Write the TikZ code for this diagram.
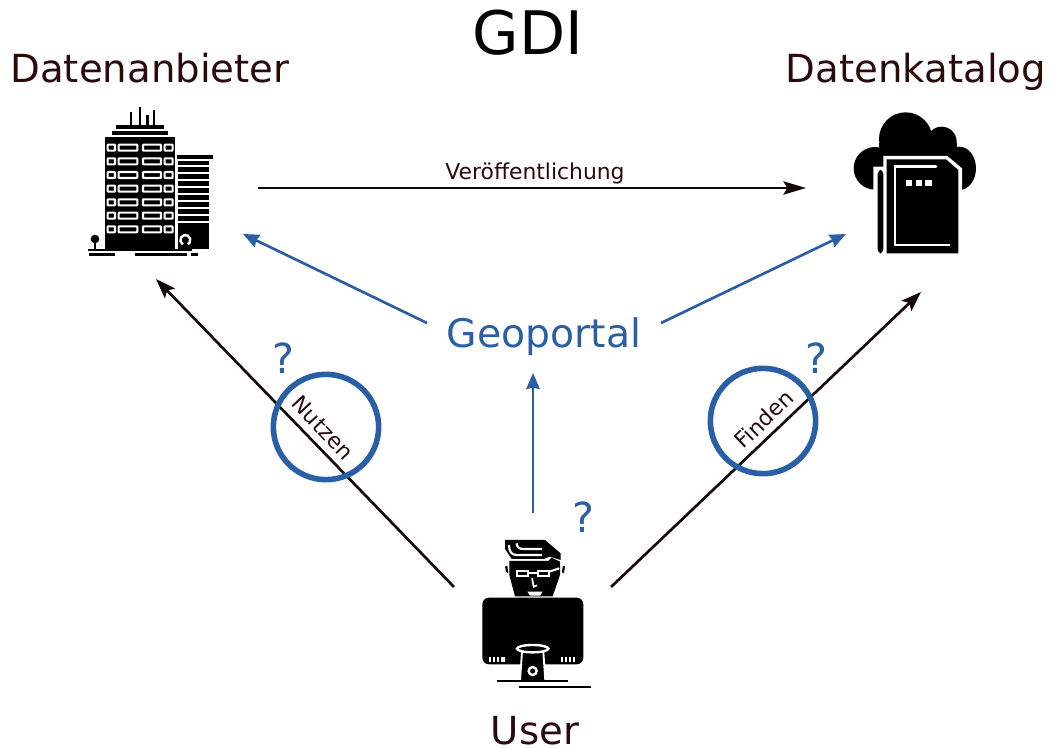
\documentclass[tikz,border=0pt]{standalone}
\usepackage{fontspec}
\setmainfont{DejaVu Sans}
\usetikzlibrary{arrows.meta}
\definecolor{ink}{HTML}{2A0A0A}
\definecolor{dark}{HTML}{140808}
\definecolor{geo}{HTML}{2A5FA5}
\tikzset{
  base/.style={inner sep=0pt,outer sep=0pt},
  title/.style={base,font=\fontsize{45}{50}\selectfont,text=black},
  head/.style={base,anchor=base,font=\fontsize{29}{32}\selectfont,text=ink},
  small/.style={base,font=\fontsize{16.4}{20}\selectfont,text=ink},
  portal/.style={base,anchor=base,font=\fontsize{29.5}{36}\selectfont,text=geo},
  quest/.style={base,font=\fontsize{31}{34}\selectfont,text=geo},
  inkarrow/.style={draw=dark,line width=2pt,-{Stealth[length=15pt,width=10.5pt,inset=3pt]}},
  inkthin/.style={draw=dark,line width=1.2pt,-{Stealth[length=17pt,width=10pt,inset=3pt]}},
  geoarrow/.style={draw=geo,line width=2pt,-{Stealth[length=12pt,width=10pt,inset=1pt]}},
  ring/.style={draw=geo,line width=4.2pt,circle,minimum size=79pt,inner sep=0pt,fill=none},
  wline/.style={draw=white,line width=1.6pt},
}
\begin{document}
\begin{tikzpicture}[x=0.75pt,y=-0.75pt]
\useasboundingbox (0,0) rectangle (1050,748);

% connector end points
\coordinate (pubA) at (258,188);
\coordinate (pubB) at (806,188);
\coordinate (useA) at (454,587);
\coordinate (useB) at (156,279);
\coordinate (findA) at (611,587);
\coordinate (findB) at (921,292);
\coordinate (geoL) at (427,323);
\coordinate (geoLend) at (243,234);
\coordinate (geoR) at (661,323);
\coordinate (geoRend) at (846,234);
\coordinate (geoB) at (533,513);
\coordinate (geoBend) at (533,373);

% texts
\node[title] (gdi) at (528,33) {GDI};
\node[head] (anb) at (150,83) {Datenanbieter};
\node[head] (kat) at (916,83) {Datenkatalog};
\node[head] (usr) at (535,744) {User};
\node[portal] (portalnode) at (544,348) {Geoportal};
\node[small] (pub) at (535,173) {Veröffentlichung};
\node[quest] (q1) at (283,358) {?};
\node[quest] (q2) at (816,358) {?};
\node[quest] (q3) at (583,517) {?};

% connectors
\draw[inkthin] (pubA) -- (pubB);
\draw[inkarrow] (useA) -- (useB);
\draw[inkarrow] (findA) -- (findB);
\draw[geoarrow] (geoL) -- (geoLend);
\draw[geoarrow] (geoR) -- (geoRend);
\draw[geoarrow] (geoB) -- (geoBend);

% rings and their labels
\node[ring] (r1) at (326,427) {};
\node[ring] (r2) at (763,421) {};
\node[small,rotate=-47] (nutzen) at (323,428) {Nutzen};
\node[small,rotate=44] (finden) at (764,419) {Finden};

% building icon
\begin{scope}[shift={(70,90)},scale=1/3]
  \fill (105,142) rectangle (316,480);
  \fill (127,122) rectangle (294,135);
  \fill (138,105) rectangle (283,117);
  \foreach \xx/\yy in {183/65,210/50,233/75,252/60}
    \draw[line width=2pt] (\xx,\yy) -- (\xx,108);
  \foreach \yy in {173,214,255,296,337,377,418}{
    \draw[wline,rounded corners=0.5pt] (113,\yy-9) rectangle (135,\yy+9);
    \draw[wline,rounded corners=0.5pt] (146,\yy-9) rectangle (202,\yy+9);
    \draw[wline,rounded corners=0.5pt] (219,\yy-9) rectangle (273,\yy+9);
    \draw[wline,rounded corners=0.5pt] (284,\yy-9) rectangle (308,\yy+9);
  }
  \fill (322,195) rectangle (430,208);
  \fill (323,214) rectangle (418,478);
  \foreach \yy in {229,250,271,292,313,334,355,376,397}
    \draw[white,line width=1.3pt] (323,\yy) -- (418,\yy);
  \draw[white,line width=1.8pt] (338.5,463) arc[start angle=120,end angle=420,radius=15];
  \fill (75,447) circle[radius=13];
  \draw[line width=1.5pt] (75,447) -- (75,480);
  \draw[line width=2pt] (55,480) -- (365,480);
  \draw[line width=2pt] (58,493) -- (135,493);
  \draw[line width=2pt] (195,493) -- (350,493);
  \draw[line width=2pt] (362,493) -- (385,493);
\end{scope}

% cloud and document icon
\begin{scope}[shift={(840,100)},scale=1/3]
  \fill (197,117) circle[radius=80];
  \fill (305,125) circle[radius=45];
  \fill (105,205) circle[radius=64];
  \fill (358,205) ellipse[x radius=50,y radius=65];
  \fill (118,130) rectangle (350,240);
  \fill[white] (100,200) -- (130,200) -- (130,168) -- (322,168) -- (366,205) -- (366,470) -- (100,470) -- cycle;
  \fill (140,178) -- (318,178) -- (355,210) -- (355,460) -- (140,460) -- cycle;
  \fill[rounded corners=3pt] (113,210) -- (130,210) -- (130,460) -- (113,460) -- cycle;
  \draw[white,line width=2pt,line cap=round] (288,200) -- (165,200) -- (165,435) -- (328,435);
  \fill[white] (197,240) rectangle (217,258);
  \fill[white] (227,240) rectangle (247,258);
  \fill[white] (255,240) rectangle (275,258);
\end{scope}

% user icon
\begin{scope}[shift={(460,525)},scale=1/3]
  \fill (135,45) -- (255,45) -- (302,85) -- (302,105) -- (270,95) -- (250,102) -- (155,102) -- (135,72) -- cycle;
  \fill (148,108) -- (265,108) -- (275,98) -- (300,110) -- (300,150) -- (278,214) -- (165,214) -- (148,150) -- cycle;
  \fill (135,125) -- (142,122) -- (145,145) -- (138,140) -- cycle;
  \fill (308,125) -- (315,122) -- (312,145) -- (306,142) -- cycle;
  \draw[white,line width=1.6pt] (147,60) .. controls (147,80) and (155,90) .. (170,90) -- (246,90);
  \draw[white,line width=1.6pt] (170,55) .. controls (170,65) and (176,72) .. (190,72) -- (246,72);
  \draw[white,line width=1.5pt] (172,138) rectangle (205,152);
  \draw[white,line width=1.5pt] (234,138) rectangle (268,152);
  \draw[white,line width=1.5pt] (205,143) -- (234,143);
  \draw[white,line width=1.5pt] (268,140) -- (298,130);
  \draw[white,line width=1.3pt] (216,160) -- (221,185) -- (231,181);
  \fill[white] (202,200) -- (248,200) -- (240,212) -- (210,212) -- cycle;
  \fill[black,rounded corners=5pt] (67,218) rectangle (370,418);
  \foreach \xx in {91,103,115,127,133,307,319,331,343}
    \fill[white] (\xx-3,395) rectangle (\xx+3,411);
  \fill (187,380) -- (250,380) -- (255,468) -- (181,468) -- cycle;
  \draw[white,line width=1.4pt] (186,380) -- (180,468);
  \draw[white,line width=1.4pt] (250,380) -- (256,468);
  \draw[white,line width=1.8pt,fill=black] (218,371) ellipse[x radius=47,y radius=11];
  \draw[white,line width=1.8pt] (218,438) circle[radius=12];
  \draw[line width=1.5pt] (110,468) -- (325,468);
  \draw[line width=1.5pt] (178,485) -- (392,485);
\end{scope}
\end{tikzpicture}
\end{document}
